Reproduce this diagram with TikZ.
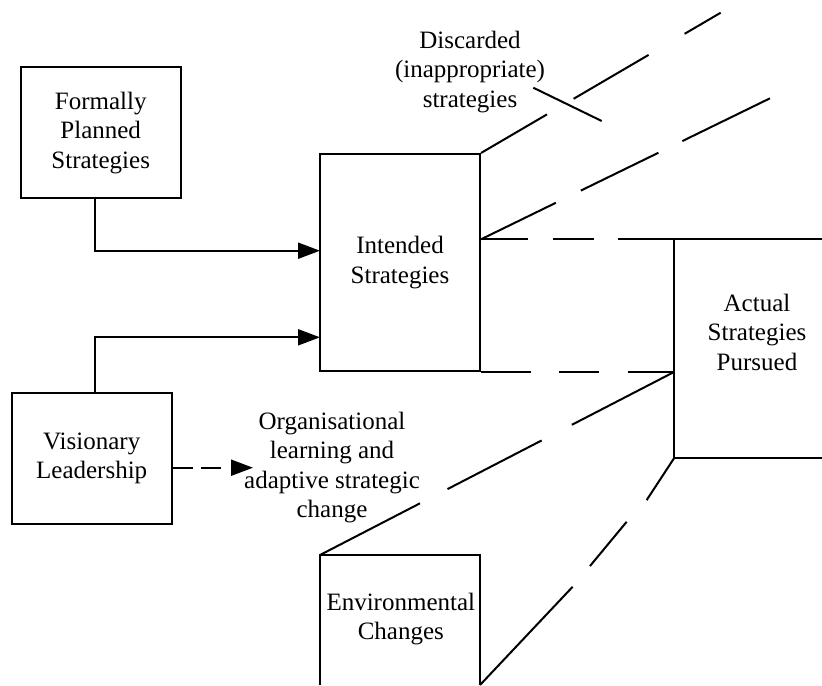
\documentclass[tikz,border=0pt]{standalone}
\usepackage{fontspec}
\setmainfont{Liberation Serif}
\usetikzlibrary{arrows.meta}
\begin{document}
\begin{tikzpicture}[x=0.5pt,y=-0.5pt,
  line width=1pt,
  txt/.style={font=\fontsize{12.5pt}{14.75pt}\selectfont, align=center, inner sep=0pt},
  box/.style={txt, draw, minimum width=80pt},
  tip/.style={-{Triangle[length=11pt,width=8pt]}},
]
\useasboundingbox (0,0) rectangle (822,685);
% boxes
\node[box, minimum height=65.3pt] (F) at (100.7,132.7) {Formally\\Planned\\Strategies};
\node[box, minimum height=108.5pt] (I) at (400,262.5) {Intended\\Strategies};
\node[box, minimum height=65.8pt] (V) at (91.7,458.5) {Visionary\\Leadership};
% actual strategies (open to the right)
\coordinate (atl) at (674,239.3);
\coordinate (abl) at (674,458.3);
\coordinate (atr) at (822,239.3);
\coordinate (abr) at (822,458.3);
\node[txt] (A) at (757,332) {Actual\\Strategies\\Pursued};
\draw (atr) -- (atl) -- (abl) -- (abr);
% environmental changes (open at the bottom)
\coordinate (etl) at (320,555);
\coordinate (etr) at (480,555);
\coordinate (ebl) at (320,685);
\coordinate (ebr) at (480,685);
\node[txt] (E) at (400.8,619) {Environmental\\Changes};
\draw (ebl) -- (etl) -- (etr) -- (ebr);
% labels
\node[txt] (D) at (470,72) {Discarded\\(inappropriate)\\strategies};
\coordinate (dp1) at (533.3,87.7);
\coordinate (dp2) at (601.7,121);
\draw (dp1) -- (dp2);
\node[txt] (O) at (332,467.4) {Organisational\\learning and\\adaptive strategic\\change};
% arrows
\coordinate (i1) at (320,250.7);
\coordinate (i2) at (320,337.3);
\draw[tip] ([xshift=-2.85pt]F.south) |- (i1);
\draw[tip] ([xshift=1.65pt]V.north) |- (i2);
\coordinate (vt) at (253,467.7);
\draw[tip, dash pattern=on 10pt off 4.15pt on 10pt off 6pt] (V.east |- vt) -- (vt);
% dashed lines
\coordinate (d1) at (720.7,12.7);
\coordinate (d2) at (770,98.3);
\coordinate (am) at (I.south east -| atl);
\draw[dash pattern=on 38.2pt off 15.45pt on 43.45pt off 20.85pt on 30pt off 100pt] (I.north east) -- (d1);
\draw[dash pattern=on 41.65pt off 13.9pt on 43.15pt off 13.3pt on 60pt off 100pt] (I.east |- atl) -- (d2);
\draw[dash pattern=on 23.35pt off 12.8pt on 20.5pt off 11.7pt on 40pt off 100pt] (I.east |- atl) -- (atl);
\draw[dash pattern=on 25pt off 14.15pt on 20pt off 14.2pt on 40pt off 100pt] (I.south east) -- (am);
\draw[dash pattern=on 57.5pt off 17pt on 53pt off 15.5pt on 70pt off 100pt] (am) -- (etl);
\coordinate (c1) at (572.7,586.7);
\coordinate (c2) at (590,566);
\coordinate (c3) at (626.7,521.7);
\coordinate (c4) at (646.7,500);
\draw[dash pattern=on 67.5pt off 13.5pt on 28.75pt off 14.75pt on 40pt off 100pt] (ebr) -- (c1) -- (c2) -- (c3) -- (c4) -- (abl);
\end{tikzpicture}
\end{document}
